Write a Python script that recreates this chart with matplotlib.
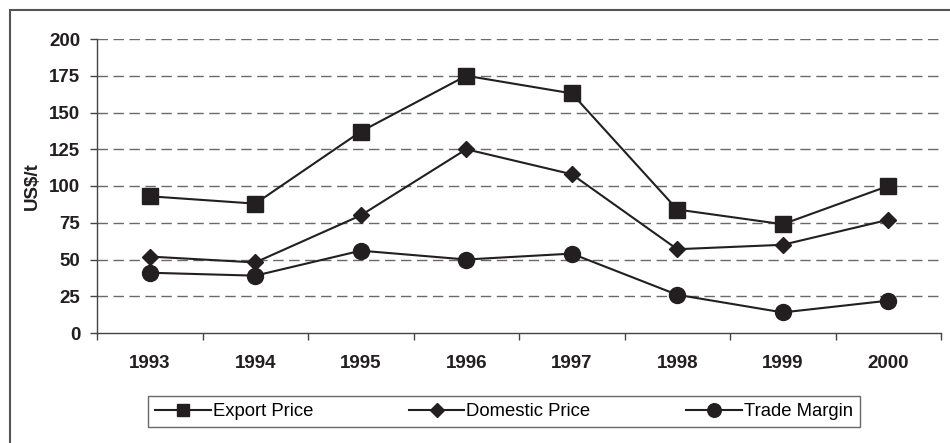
import matplotlib.pyplot as plt
from matplotlib.patches import Rectangle

years = ['1993', '1994', '1995', '1996', '1997', '1998', '1999', '2000']
export_price = [93, 88, 137, 175, 163, 84, 74, 100]
domestic_price = [52, 48, 80, 125, 108, 57, 60, 77]
trade_margin = [41, 39, 56, 50, 54, 26, 14, 22]
yticks = [0, 25, 50, 75, 100, 125, 150, 175, 200]

plt.rcParams['font.family'] = ['Liberation Sans', 'DejaVu Sans']
ink = '#231f20'

fig = plt.figure(figsize=(9.5, 4.43), dpi=100)
# outer frame of the chart
fig.add_artist(Rectangle((10 / 950, -0.1), 2, 1.1 - 10 / 443, transform=fig.transFigure,
                         fill=False, edgecolor='#555555', linewidth=1.5))

ax = fig.add_axes([97 / 950, 1 - 333 / 443, (941 - 97) / 950, (333 - 39) / 443])
x = list(range(len(years)))

ax.plot(x, export_price, color=ink, lw=1.5, marker='s', ms=11, label='Export Price')
ax.plot(x, domestic_price, color=ink, lw=1.5, marker='D', ms=8.5, label='Domestic Price')
ax.plot(x, trade_margin, color=ink, lw=1.5, marker='o', ms=11.5, label='Trade Margin')

ax.set_xlim(-0.5, len(years) - 0.5)
ax.set_ylim(0, 200)
ax.set_yticks(yticks)
ax.set_yticklabels([str(v) for v in yticks], fontsize=13.5, fontweight='bold', color=ink)
ax.set_xticks(x)
ax.set_xticklabels(years, fontsize=13.5, fontweight='bold', color=ink)
ax.set_xticks([i - 0.5 for i in range(len(years) + 1)], minor=True)
ax.tick_params(axis='x', which='major', length=0, pad=16)
ax.tick_params(axis='x', which='minor', length=5, width=1, color='#444444', direction='out')
ax.tick_params(axis='y', length=5, width=1, color='#444444', pad=7)

for v in yticks[1:]:
    ax.axhline(v, color='#6a6a6a', lw=1, linestyle=(0, (7.5, 4)), zorder=0)

for s in ['top', 'right']:
    ax.spines[s].set_visible(False)
for s in ['left', 'bottom']:
    ax.spines[s].set_color('#444444')
    ax.spines[s].set_linewidth(1)

ax.set_ylabel('US$/t', fontsize=13.5, fontweight='bold', color=ink, labelpad=6)

leg = fig.legend(loc='center', bbox_to_anchor=(504 / 950, 1 - 411.5 / 443), ncol=3,
                 fontsize=13.3, frameon=True, fancybox=False, edgecolor='#444444',
                 handlelength=3.0, columnspacing=5.2, markerscale=0.85,
                 borderpad=0.4, handletextpad=0.1)
leg.get_frame().set_linewidth(1)

fig.savefig('out.png', dpi=100)
